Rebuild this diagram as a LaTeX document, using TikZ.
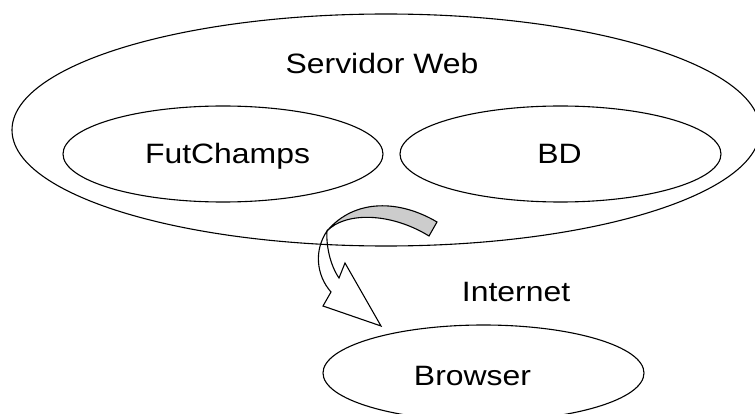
\documentclass[tikz,border=0pt]{standalone}
\usepackage{fontspec}
\usepackage{graphicx}
\setmainfont{Liberation Sans}
\usetikzlibrary{shapes.geometric}
\definecolor{ribbongray}{RGB}{204,204,204}
% slightly widened glyphs, as in the drawing
\newcommand{\widetext}[1]{\scalebox{1.14}[1]{#1}}
\tikzset{
  bubble/.style={draw=black, line width=1.1pt, ellipse, inner sep=0pt, outer sep=0pt},
  caption/.style={font=\fontsize{28}{34}\selectfont, inner sep=0pt, anchor=base},
  ribbon/.style={draw=black, line width=1.1pt, line join=miter},
}
\begin{document}
\begin{tikzpicture}[x=1pt, y=-1pt]
  \useasboundingbox (0,0) rectangle (755,414);
  \clip (0,0) rectangle (755,414);

  % twisted block arrow from the server down to the browser
  \filldraw[ribbon, fill=white]
    (327,231) .. controls (314,250) and (316,275) .. (331,292)
    -- (323,306) -- (381,326) -- (345,263) -- (339,278)
    .. controls (330,265) and (326,245) .. (327,231) -- cycle;
  \filldraw[ribbon, fill=ribbongray]
    (437,222) .. controls (400,200) and (355,198) .. (327,231)
    .. controls (345,212) and (390,212) .. (429,236) -- cycle;

  % ellipses
  \node[bubble, minimum width=748pt, minimum height=232pt] (srv) at (386,130) {};
  \node[bubble, minimum width=320pt, minimum height=96pt] (fut) at (223,154) {};
  \node[bubble, minimum width=321pt, minimum height=96pt] (bd) at (560.5,154) {};
  \node[bubble, minimum width=321pt, minimum height=96pt] (brw) at (483.5,373) {};

  % labels
  \node[caption] (srvtext) at (382,74) {\widetext{Servidor Web}};
  \node[caption] (futtext) at (227.5,164) {\widetext{FutChamps}};
  \node[caption] (bdtext) at (559.5,164) {\widetext{BD}};
  \node[caption] (nettext) at (516,301.5) {\widetext{Internet}};
  \node[caption] (brwtext) at (472.5,385) {\widetext{Browser}};
\end{tikzpicture}
\end{document}
